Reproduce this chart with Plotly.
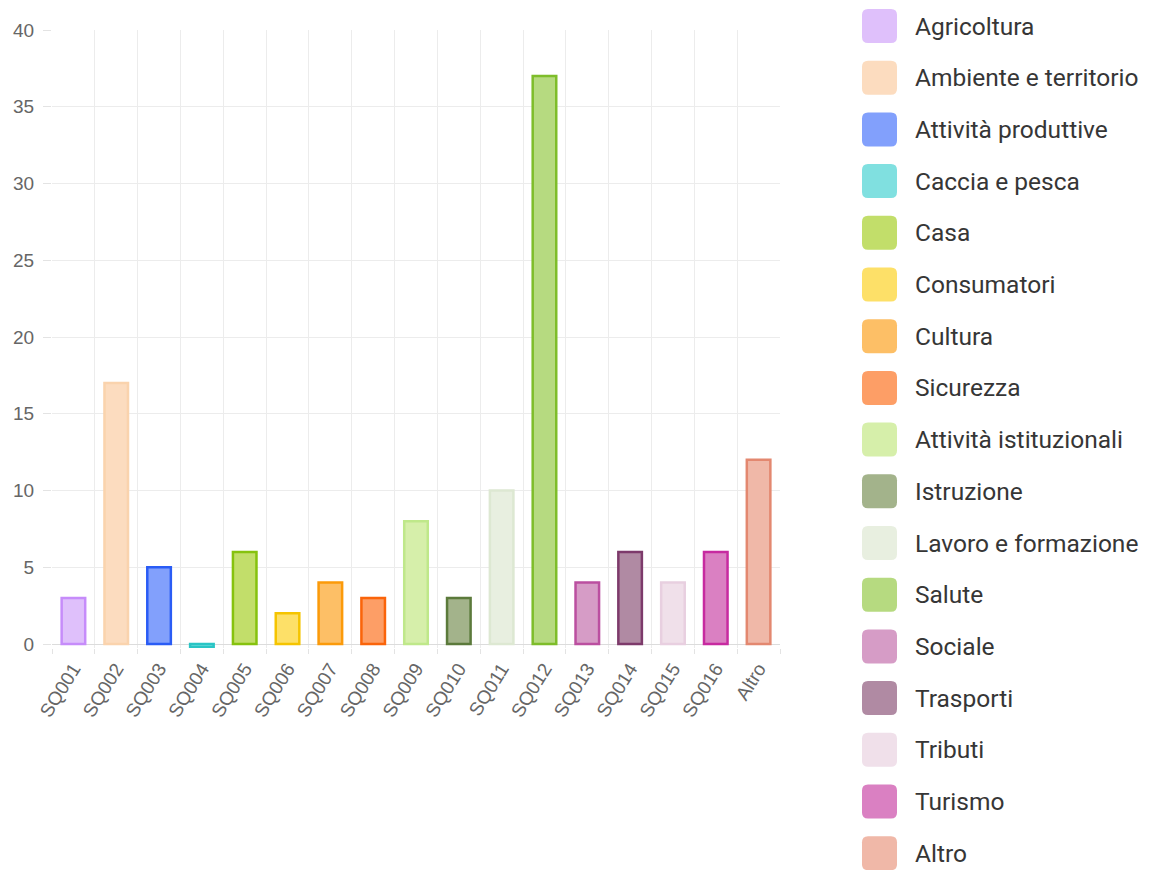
import plotly.graph_objects as go

labels = ['SQ001', 'SQ002', 'SQ003', 'SQ004', 'SQ005', 'SQ006', 'SQ007', 'SQ008', 'SQ009',
          'SQ010', 'SQ011', 'SQ012', 'SQ013', 'SQ014', 'SQ015', 'SQ016', 'Altro']
values = [3, 17, 5, -0.2, 6, 2, 4, 3, 8, 3, 10, 37, 4, 6, 4, 6, 12]
names = ['Agricoltura', 'Ambiente e territorio', 'Attività produttive', 'Caccia e pesca', 'Casa',
         'Consumatori', 'Cultura', 'Sicurezza', 'Attività istituzionali', 'Istruzione',
         'Lavoro e formazione', 'Salute', 'Sociale', 'Trasporti', 'Tributi', 'Turismo', 'Altro']
fill_colors = ['#dfc0fb', '#fcdcbf', '#82a0fc', '#80e0e0', '#c2de6a', '#fde068', '#fdbf66',
               '#fd9e66', '#d6efaa', '#a3b38b', '#e8efe0', '#b6da80', '#d69cc6', '#b08aa3',
               '#f0e0ea', '#da80c2', '#f0b8a8']
line_colors = ['#c68cfa', '#fad3ad', '#2a5cf5', '#2ac5c5', '#86c20e', '#f5c400', '#fb9a0a',
               '#fa640a', '#bfe88a', '#5b7a3b', '#dde8d2', '#7ebd2a', '#bb4fa0', '#7d3a6b',
               '#e8cfe0', '#c72aa0', '#e38870']

# page has an 8px body margin, so work in figure coordinates
W, H = 1143, 862
L, R, T, B = 44, 772, 22, 640   # B sits a few px under the zero line

fig = go.Figure(go.Bar(
    x=labels,
    y=values,
    width=0.55,
    marker=dict(color=fill_colors, line=dict(color=line_colors, width=2.5)),
))


def px2paper(px, py):
    return (px - L) / (R - L), (B - py) / (B - T)


# custom legend with rounded swatches
shapes = []
annotations = []
for i, (name, col) in enumerate(zip(names, fill_colors)):
    cy = 18 + i * 51.7
    x0, x1 = 854, 889
    y0, y1 = cy - 17, cy + 17
    r = 6
    pts = [
        (x0 + r, y0), (x1 - r, y0), (x1, y0), (x1, y0 + r), (x1, y1 - r), (x1, y1),
        (x1 - r, y1), (x0 + r, y1), (x0, y1), (x0, y1 - r), (x0, y0 + r), (x0, y0),
    ]
    p = [px2paper(a, b) for a, b in pts]
    path = (f"M {p[0][0]},{p[0][1]} L {p[1][0]},{p[1][1]} Q {p[2][0]},{p[2][1]} {p[3][0]},{p[3][1]} "
            f"L {p[4][0]},{p[4][1]} Q {p[5][0]},{p[5][1]} {p[6][0]},{p[6][1]} "
            f"L {p[7][0]},{p[7][1]} Q {p[8][0]},{p[8][1]} {p[9][0]},{p[9][1]} "
            f"L {p[10][0]},{p[10][1]} Q {p[11][0]},{p[11][1]} {p[0][0]},{p[0][1]} Z")
    shapes.append(dict(type='path', xref='paper', yref='paper', path=path,
                       fillcolor=col, line=dict(width=0)))
    tx, ty = px2paper(905, cy)
    annotations.append(dict(xref='paper', yref='paper', x=tx, y=ty, text=name,
                            showarrow=False, xanchor='left', yanchor='middle',
                            font=dict(family='Roboto', size=24.5, color='#363636')))

fig.update_layout(
    width=W, height=H,
    margin=dict(l=L, r=W - R, t=T, b=H - B),
    plot_bgcolor='white', paper_bgcolor='white',
    showlegend=False,
    shapes=shapes,
    annotations=annotations,
    font=dict(family='Liberation Sans', color='#666666', size=19),
    xaxis=dict(
        tickson='boundaries', showgrid=True, gridcolor='#ececec', gridwidth=1,
        ticks='outside', ticklen=5, tickcolor='#e3e3e3', tickangle=-58,
        showline=False, ticklabelstandoff=5, automargin=False,
        tickfont=dict(family='Liberation Sans', size=19, color='#666666'),
    ),
    yaxis=dict(
        range=[-0.26, 40], tick0=0, dtick=5, showgrid=True, gridcolor='#ececec', gridwidth=1,
        ticks='outside', ticklen=8, tickcolor='#e3e3e3',
        zeroline=True, zerolinecolor='#dcdcdc', zerolinewidth=1,
        showline=False, ticklabelstandoff=5, automargin=False,
        tickfont=dict(family='Liberation Sans', size=19, color='#666666'),
    ),
)

fig.write_html("out.html")
